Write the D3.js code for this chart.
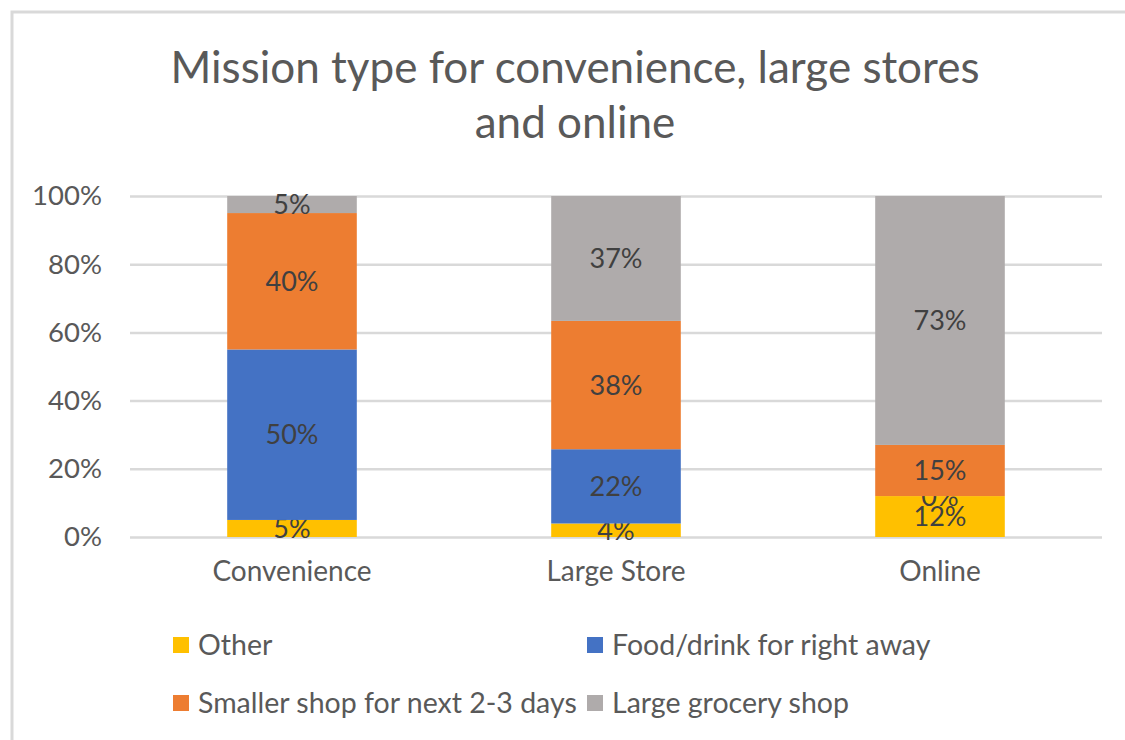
<!DOCTYPE html>
<html>
<head>
<meta charset="utf-8">
<script src="https://cdn.jsdelivr.net/npm/d3@7"></script>
<style>
    body { margin: 0; background: #fff; }
    svg text { font-family: Lato, "Open Sans", sans-serif; }
</style>
</head>
<body>
<div id="chart"></div>
<script>
// chart data
const stores = ["Convenience", "Large Store", "Online"];
const missions = ["Other", "Food/drink for right away", "Smaller shop for next 2-3 days", "Large grocery shop"];
const other = [5, 4, 12];
const foodDrink = [50, 22, 0];
const smallerShop = [40, 38, 15];
const largeShop = [5, 37, 73];
const yTicks = [0, 0.2, 0.4, 0.6, 0.8, 1];
const colors = ["#ffc000", "#4472c4", "#ed7d31", "#afabab"];

const width = 1125, height = 740;
const margin = {top: 196, right: 23, bottom: 203, left: 130};

let svg = d3.select("#chart").append("svg")
    .attr("width", width)
    .attr("height", height);

// outer chart border
svg.append("rect")
    .attr("x", 12).attr("y", 12)
    .attr("width", width + 20).attr("height", height + 20)
    .attr("fill", "none")
    .attr("stroke", "#d9d9d9")
    .attr("stroke-width", 3);

// title
svg.append("text")
    .attr("x", 575).attr("y", 83)
    .attr("text-anchor", "middle")
    .attr("fill", "#595959")
    .style("font-size", "44px")
    .text("Mission type for convenience, large stores");
svg.append("text")
    .attr("x", 575).attr("y", 138)
    .attr("text-anchor", "middle")
    .attr("fill", "#595959")
    .style("font-size", "44px")
    .text("and online");

let g = svg.append("g")
    .attr("transform", `translate(${margin.left}, ${margin.top})`);

let innerW = width - margin.left - margin.right;
let innerH = height - margin.top - margin.bottom;

let x = d3.scaleBand()
    .domain(stores)
    .range([0, innerW])
    .paddingInner(0.6)
    .paddingOuter(0.3);

let y = d3.scaleLinear()
    .domain([0, 1])
    .range([innerH, 0]);

// gridlines
g.append("g")
    .attr("class", "grid")
    .call(d3.axisLeft(y).tickValues(yTicks).tickSize(-innerW).tickFormat(""))
    .call(s => s.select(".domain").remove())
    .selectAll("line")
    .attr("stroke", "#d9d9d9")
    .attr("stroke-width", 2.5);

// y axis labels
g.append("g")
    .call(d3.axisLeft(y).tickValues(yTicks).tickSize(0).tickPadding(28).tickFormat(d3.format(".0%")))
    .call(s => s.select(".domain").remove())
    .selectAll("text")
    .attr("fill", "#595959")
    .style("font-size", "27.5px");

// x axis labels
g.append("g")
    .attr("transform", `translate(0, ${innerH})`)
    .call(d3.axisBottom(x).tickSize(0).tickPadding(24))
    .call(s => s.select(".domain").remove())
    .selectAll("text")
    .attr("fill", "#595959")
    .style("font-size", "28px");

// build rows and stack (100% stacked)
let rows = stores.map((s, i) => {
    let r = {store: s};
    r[missions[0]] = other[i];
    r[missions[1]] = foodDrink[i];
    r[missions[2]] = smallerShop[i];
    r[missions[3]] = largeShop[i];
    return r;
});

let stacked = d3.stack()
    .keys(missions)
    .offset(d3.stackOffsetExpand)(rows);

let layers = g.selectAll(".layer")
    .data(stacked)
    .enter()
    .append("g")
    .attr("class", "layer")
    .attr("fill", (d, i) => colors[i]);

layers.selectAll("rect")
    .data(d => d)
    .enter()
    .append("rect")
    .attr("x", d => x(d.data.store))
    .attr("width", x.bandwidth())
    .attr("y", d => y(d[1]))
    .attr("height", d => y(d[0]) - y(d[1]));

// data labels
layers.selectAll(".lbl")
    .data(d => d.map(v => ({v: v, key: d.key})))
    .enter()
    .append("text")
    .attr("class", "lbl")
    .attr("x", d => x(d.v.data.store) + x.bandwidth() / 2)
    .attr("y", d => y((d.v[0] + d.v[1]) / 2))
    .attr("dy", "0.35em")
    .attr("text-anchor", "middle")
    .attr("fill", "#404040")
    .style("font-size", "27px")
    .text(d => d.v.data[d.key] + "%");

// legend
let legendPos = [[173, 645], [587, 645], [173, 703], [587, 703]];
let legend = svg.selectAll(".legend")
    .data(missions)
    .enter()
    .append("g")
    .attr("class", "legend")
    .attr("transform", (d, i) => `translate(${legendPos[i][0]}, ${legendPos[i][1]})`);

legend.append("rect")
    .attr("x", 0).attr("y", -8)
    .attr("width", 16).attr("height", 16)
    .attr("fill", (d, i) => colors[i]);

legend.append("text")
    .attr("x", 25)
    .attr("dy", "0.35em")
    .attr("fill", "#595959")
    .style("font-size", "28.5px")
    .text(d => d);
</script>
</body>
</html>
